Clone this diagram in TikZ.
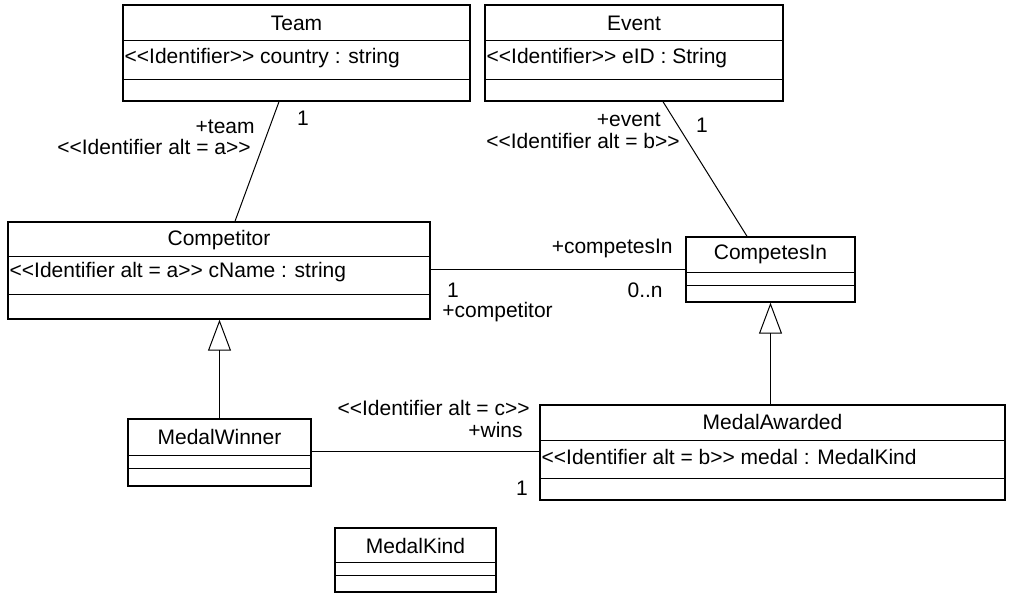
\documentclass[tikz,border=0pt]{standalone}
\usepackage{fontspec}
\newfontfamily\umlfont{Liberation Sans}
\usepackage{tikz}
\usetikzlibrary{fit,arrows.meta}

\begin{document}
\begin{tikzpicture}[x=0.5pt, y=-0.5pt,
  every node/.style={font=\umlfont\fontsize{10.5}{12}\selectfont, inner sep=1pt},
  classbox/.style={draw, line width=0.7pt, inner sep=0pt},
  link/.style={line width=0.5pt},
  gen/.style={link, -{Triangle[open, length=15.5pt, width=11.5pt]}}]
\useasboundingbox (0,0) rectangle (1013,597);
% classes
\node[classbox, fit={(123,5) (470,101)}] (team) {};
\draw (team.west |- 0,40) -- (team.east |- 0,40);
\draw (team.west |- 0,79) -- (team.east |- 0,79);
\node (teamname) at (team.north |- 0,23) {Team};
\node[anchor=west] (teamattr) at (team.west |- 0,58) {<<Identifier>> country : string};

\node[classbox, fit={(485,5) (783,101)}] (event) {};
\draw (event.west |- 0,40) -- (event.east |- 0,40);
\draw (event.west |- 0,79) -- (event.east |- 0,79);
\node (eventname) at (event.north |- 0,23) {Event};
\node[anchor=west] (eventattr) at (event.west |- 0,58) {<<Identifier>> eID : String};

\node[classbox, fit={(8,222) (430,319)}] (competitor) {};
\draw (competitor.west |- 0,256) -- (competitor.east |- 0,256);
\draw (competitor.west |- 0,294) -- (competitor.east |- 0,294);
\node (competitorname) at (competitor.north |- 0,240) {Competitor};
\node[anchor=west] (competitorattr) at (competitor.west |- 0,272) {<<Identifier alt = a>> cName : string};

\node[classbox, fit={(686,237) (855,302)}] (competesin) {};
\draw (competesin.west |- 0,272) -- (competesin.east |- 0,272);
\draw (competesin.west |- 0,285) -- (competesin.east |- 0,285);
\node (competesinname) at (competesin.north |- 0,254) {CompetesIn};

\node[classbox, fit={(128,419) (311,486)}] (medalwinner) {};
\draw (medalwinner.west |- 0,455) -- (medalwinner.east |- 0,455);
\draw (medalwinner.west |- 0,468) -- (medalwinner.east |- 0,468);
\node (medalwinnername) at (medalwinner.north |- 0,437) {MedalWinner};

\node[classbox, fit={(540,405) (1005,500)}] (medalawarded) {};
\draw (medalawarded.west |- 0,440) -- (medalawarded.east |- 0,440);
\draw (medalawarded.west |- 0,478) -- (medalawarded.east |- 0,478);
\node (medalawardedname) at (medalawarded.north |- 0,422) {MedalAwarded};
\node[anchor=west] (medalawardedattr) at (medalawarded.west |- 0,457) {<<Identifier alt = b>> medal : MedalKind};

\node[classbox, fit={(335,528) (496,592)}] (medalkind) {};
\draw (medalkind.west |- 0,562) -- (medalkind.east |- 0,562);
\draw (medalkind.west |- 0,575) -- (medalkind.east |- 0,575);
\node (medalkindname) at (medalkind.north |- 0,546) {MedalKind};

% associations
\draw[link] (team.south -| 279,0) -- (competitor.north -| 235,0);
\node[anchor=east] (teamrole) at (257,127) {+team};
\node[anchor=east] (teamkey) at (253,147) {<<Identifier alt = a>>};
\node (teammult) at (303,118) {1};

\draw[link] (event.south -| 663,0) -- (competesin.north -| 747,0);
\node[anchor=east] (eventrole) at (663,120) {+event};
\node[anchor=east] (eventkey) at (682,141) {<<Identifier alt = b>>};
\node (eventmult) at (702,125) {1};

\draw[link] (competitor.east |- 0,270) -- (competesin.west |- 0,270);
\node[anchor=east] (competesinrole) at (675,248) {+competesIn};
\node[anchor=east] (competesinmult) at (665,290) {0..n};
\node (competitormult) at (453,290) {1};
\node[anchor=west] (competitorrole) at (440,312) {+competitor};

\draw[link] (medalwinner.east |- 0,452) -- (medalawarded.west |- 0,452);
\node[anchor=east] (winskey) at (532,408) {<<Identifier alt = c>>};
\node[anchor=east] (winsrole) at (525,430) {+wins};
\node (winsmult) at (522,488) {1};

% generalizations
\draw[gen] (medalwinner.north) -- (medalwinner.north |- competitor.south);
\draw[gen] (medalawarded.north -| competesin.south) -- (competesin.south);
\end{tikzpicture}
\end{document}
